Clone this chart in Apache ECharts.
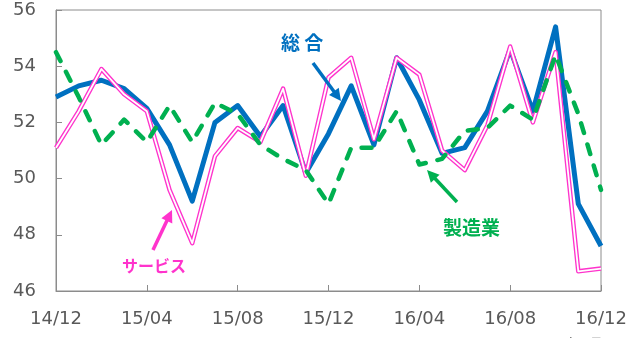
<!DOCTYPE html>
<html>
<head>
<meta charset="utf-8">
<script src="https://cdn.jsdelivr.net/npm/echarts@6/dist/echarts.min.js"></script>
<style>
html,body{margin:0;padding:0;background:#fff;}
#chart{width:643px;height:338px;}
</style>
</head>
<body>
<div id="chart"></div>
<script>
// Month labels (YY/MM)
const categories = ['14/12','15/01','15/02','15/03','15/04','15/05','15/06','15/07','15/08','15/09','15/10','15/11','15/12',
  '16/01','16/02','16/03','16/04','16/05','16/06','16/07','16/08','16/09','16/10','16/11','16/12'];
// 総合 (composite)
const composite = [52.9,53.3,53.5,53.2,52.5,51.2,49.2,52.0,52.6,51.5,52.6,50.2,51.6,53.3,51.2,54.3,52.8,50.9,51.1,52.4,54.6,52.4,55.4,49.1,47.6];
// 製造業 (manufacturing)
const manufacturing = [54.5,52.9,51.2,52.1,51.3,52.6,51.3,52.7,52.3,51.2,50.7,50.3,49.1,51.1,51.1,52.4,50.5,50.7,51.7,51.8,52.6,52.1,54.4,52.3,49.6];
// サービス (services)
const services = [51.1,52.4,53.9,53.0,52.4,49.6,47.7,50.8,51.8,51.3,53.2,50.1,53.6,54.3,51.4,54.3,53.7,51.0,50.3,51.9,54.7,52.0,54.5,46.7,46.8];
const yTicks = {min:46, max:56, interval:2};

const BLUE = '#0070C0', GREEN = '#00B050', PINK = '#FF33CC', GRAY = '#595959', AXIS = '#8c8c8c';
const FONT = 'DejaVu Sans';
const CJK = 'Noto Sans CJK JP';

function arrow(x1, y1, x2, y2, color, w, headLen, headW) {
  const dx = x2 - x1, dy = y2 - y1, L = Math.hypot(dx, dy);
  const ux = dx / L, uy = dy / L, px = -uy, py = ux;
  const bx = x2 - ux * headLen, by = y2 - uy * headLen;
  return [
    {type:'line', shape:{x1:x1, y1:y1, x2:bx + ux*2, y2:by + uy*2}, style:{stroke:color, lineWidth:w}, z:100},
    {type:'polygon', shape:{points:[[x2,y2],[bx + px*headW/2, by + py*headW/2],[bx - px*headW/2, by - py*headW/2]]}, style:{fill:color}, z:100}
  ];
}

const chart = echarts.init(document.getElementById('chart'), null, {renderer:'canvas'});
chart.setOption({
  animation:false,
  grid:{left:56, right:42, top:10, bottom:47, show:true, borderColor:AXIS, borderWidth:1},
  xAxis:{
    type:'category', data:categories, boundaryGap:false,
    axisLine:{lineStyle:{color:AXIS, width:1}},
    axisTick:{inside:true, length:6, interval:3, lineStyle:{color:AXIS}},
    axisLabel:{interval:3, margin:19, color:GRAY, fontSize:18, fontFamily:FONT},
    splitLine:{show:false}
  },
  yAxis:{
    type:'value', min:yTicks.min, max:yTicks.max, interval:yTicks.interval,
    axisLine:{show:true, lineStyle:{color:AXIS, width:1}},
    axisTick:{show:true, inside:true, length:6, lineStyle:{color:AXIS}},
    axisLabel:{margin:20, color:GRAY, fontSize:18, fontFamily:FONT},
    splitLine:{show:false}
  },
  series:[
    {name:'総合', type:'line', data:composite, symbol:'none',
      lineStyle:{color:BLUE, width:5, join:'round'}, z:2},
    {name:'サービス', type:'line', data:services, symbol:'none',
      lineStyle:{color:PINK, width:4.5, join:'round'}, z:3},
    {name:'サービス_inner', type:'line', data:services, symbol:'none',
      lineStyle:{color:'#ffffff', width:1.8, join:'round'}, z:4},
    {name:'製造業', type:'line', data:manufacturing, symbol:'none',
      lineStyle:{color:GREEN, width:4.5, type:[10,12], cap:'round', join:'round'}, z:5}
  ],
  graphic:[
    {type:'text', left:281, top:33, style:{text:'総 合', fill:BLUE, font:'bold 19px "'+CJK+'"'}, z:100},
    ...arrow(313, 63, 341, 101, BLUE, 3.5, 12, 12),
    {type:'text', left:443, top:218, style:{text:'製造業', fill:GREEN, font:'bold 19px "'+CJK+'"'}, z:100},
    ...arrow(457, 202, 427, 170, GREEN, 3.5, 12, 12),
    {type:'text', left:122, top:258, style:{text:'サービス', fill:PINK, font:'bold 16px "'+CJK+'"'}, z:100},
    ...arrow(153, 250, 172, 210, PINK, 3.5, 12, 12),
    {type:'text', left:560, top:338, style:{text:'(年/月)', fill:GRAY, font:'16px "'+FONT+'"'}, z:100}
  ]
});
</script>
</body>
</html>
